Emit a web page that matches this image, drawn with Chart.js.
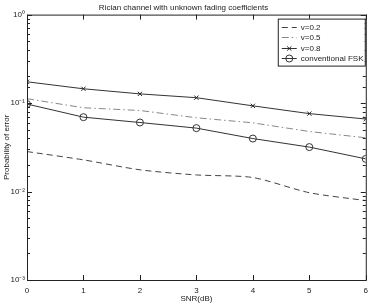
<!DOCTYPE html>
<html>
<head>
<meta charset="utf-8">
<script src="https://cdn.jsdelivr.net/npm/chart.js@4.4.0/dist/chart.umd.min.js"></script>
<style>
  html, body { margin: 0; padding: 0; background: #fff; }
  #wrap { width: 374px; height: 304px; }
</style>
</head>
<body>
<div id="wrap"><canvas id="berChart"></canvas></div>
<script>
// SNR in dB
const snr = [0, 1, 2, 3, 4, 5, 6];

// probability of error
const v02 = [0.0283, 0.0228, 0.0176, 0.0154, 0.0144, 0.0097, 0.0079];
const v05 = [0.112, 0.0885, 0.0824, 0.0682, 0.0598, 0.0477, 0.0405];
const v08 = [0.174, 0.145, 0.127, 0.115, 0.093, 0.076, 0.066];
const fsk = [0.0975, 0.0693, 0.0603, 0.0521, 0.0397, 0.0318, 0.0234];

const yTickLabels = { 1: "10\u2070", 0.1: "10\u207B\u00B9", 0.01: "10\u207B\u00B2", 0.001: "10\u207B\u00B3" };

const FONT = "'Liberation Sans', Arial, sans-serif";

function toPoints(arr) {
  return arr.map((v, i) => ({ x: snr[i], y: v }));
}

// matlab style box with inward tick marks
const boxTicks = {
  id: "boxTicks",
  afterDraw(chart) {
    const ctx = chart.ctx;
    const a = chart.chartArea;
    const xs = chart.scales.x, ys = chart.scales.y;
    ctx.save();
    ctx.strokeStyle = "#222";
    ctx.lineWidth = 1;
    ctx.strokeRect(a.left + 0.5, a.top + 0.5, a.right - a.left, a.bottom - a.top);
    ctx.beginPath();
    ys.ticks.forEach((t) => {
      const y = Math.round(ys.getPixelForValue(t.value)) + 0.5;
      const major = yTickLabels[t.value] !== undefined;
      const len = major ? 5 : 3;
      ctx.moveTo(a.left, y); ctx.lineTo(a.left + len, y);
      ctx.moveTo(a.right, y); ctx.lineTo(a.right - len, y);
    });
    xs.ticks.forEach((t) => {
      const x = Math.round(xs.getPixelForValue(t.value)) + 0.5;
      ctx.moveTo(x, a.bottom); ctx.lineTo(x, a.bottom - 5);
      ctx.moveTo(x, a.top); ctx.lineTo(x, a.top + 5);
    });
    ctx.stroke();
    ctx.restore();
  }
};

// matlab style legend box, drawn from dataset styles
const legendBox = {
  id: "legendBox",
  afterDraw(chart) {
    const c = chart.ctx;
    const a = chart.chartArea;
    const w = 87, rowH = 10.5;
    const x0 = a.right - w - 1, y0 = a.top + 4;
    const ds = chart.data.datasets;
    c.save();
    c.fillStyle = "#fff";
    c.fillRect(x0, y0, w, rowH * ds.length + 5);
    c.strokeStyle = "#222";
    c.lineWidth = 1;
    c.strokeRect(x0 + 0.5, y0 + 0.5, w, rowH * ds.length + 5);
    c.font = "8px " + FONT;
    c.textBaseline = "middle";
    ds.forEach((d, i) => {
      const y = Math.round(y0 + 3 + rowH * (i + 0.5)) + 0.5;
      c.strokeStyle = d.borderColor;
      c.setLineDash(d.borderDash || []);
      c.beginPath();
      c.moveTo(x0 + 4, y); c.lineTo(x0 + 19, y);
      c.stroke();
      c.setLineDash([]);
      if (d.pointRadius > 0) {
        c.fillStyle = "rgba(255,255,255,0)";
        c.strokeStyle = d.pointBorderColor;
        Chart.helpers.drawPoint(c, {
          pointStyle: d.pointStyle,
          radius: d.pointRadius,
          rotation: 0,
          borderWidth: 1
        }, x0 + 11.5, y);
      }
      c.fillStyle = "#222";
      c.fillText(d.label, x0 + 23, y);
    });
    c.restore();
  }
};

const ctx = document.getElementById("berChart").getContext("2d");

new Chart(ctx, {
  type: "line",
  data: {
    datasets: [
      {
        label: "v=0.2",
        data: toPoints(v02),
        borderColor: "#444",
        borderWidth: 1,
        borderDash: [6, 4],
        pointRadius: 0,
        tension: 0.25
      },
      {
        label: "v=0.5",
        data: toPoints(v05),
        borderColor: "#888",
        borderWidth: 1,
        borderDash: [7, 3, 1.5, 3],
        pointRadius: 0
      },
      {
        label: "v=0.8",
        data: toPoints(v08),
        borderColor: "#333",
        borderWidth: 1,
        pointStyle: "crossRot",
        pointRadius: 3,
        pointBorderColor: "#222",
        pointBorderWidth: 1
      },
      {
        label: "conventional FSK",
        data: toPoints(fsk),
        borderColor: "#333",
        borderWidth: 1,
        pointStyle: "circle",
        pointRadius: 3.5,
        pointBackgroundColor: "rgba(255,255,255,0)",
        pointBorderColor: "#333",
        pointBorderWidth: 1
      }
    ]
  },
  options: {
    responsive: true,
    maintainAspectRatio: false,
    animation: false,
    layout: { padding: { left: 0, right: 7, top: 0, bottom: 0 } },
    plugins: {
      title: {
        display: true,
        text: "Rician channel with unknown fading coefficients",
        color: "#222",
        font: { family: FONT, size: 8, weight: "normal" },
        padding: { top: 3, bottom: 2 }
      },
      legend: { display: false },
      tooltip: { enabled: false }
    },
    scales: {
      x: {
        type: "linear",
        min: 0,
        max: 6,
        grid: { display: false, drawTicks: false },
        border: { display: false },
        ticks: {
          stepSize: 1,
          color: "#222",
          padding: 6,
          font: { family: FONT, size: 8 },
          maxRotation: 0
        },
        title: {
          display: true,
          text: "SNR(dB)",
          color: "#222",
          font: { family: FONT, size: 8 },
          padding: 0
        },
        afterFit: (s) => { s.height = 24; }
      },
      y: {
        type: "logarithmic",
        min: 0.001,
        max: 1,
        grid: { display: false, drawTicks: false },
        border: { display: false },
        ticks: {
          autoSkip: false,
          color: "#222",
          padding: 2,
          font: { family: FONT, size: 8 },
          callback: function (value) {
            return yTickLabels[value] || "";
          }
        },
        title: {
          display: true,
          text: "Probability of error",
          color: "#222",
          font: { family: FONT, size: 8 },
          padding: { top: 2, bottom: 0 }
        },
        afterFit: (s) => { s.width = 27; }
      }
    }
  },
  plugins: [boxTicks, legendBox]
});
</script>
</body>
</html>
